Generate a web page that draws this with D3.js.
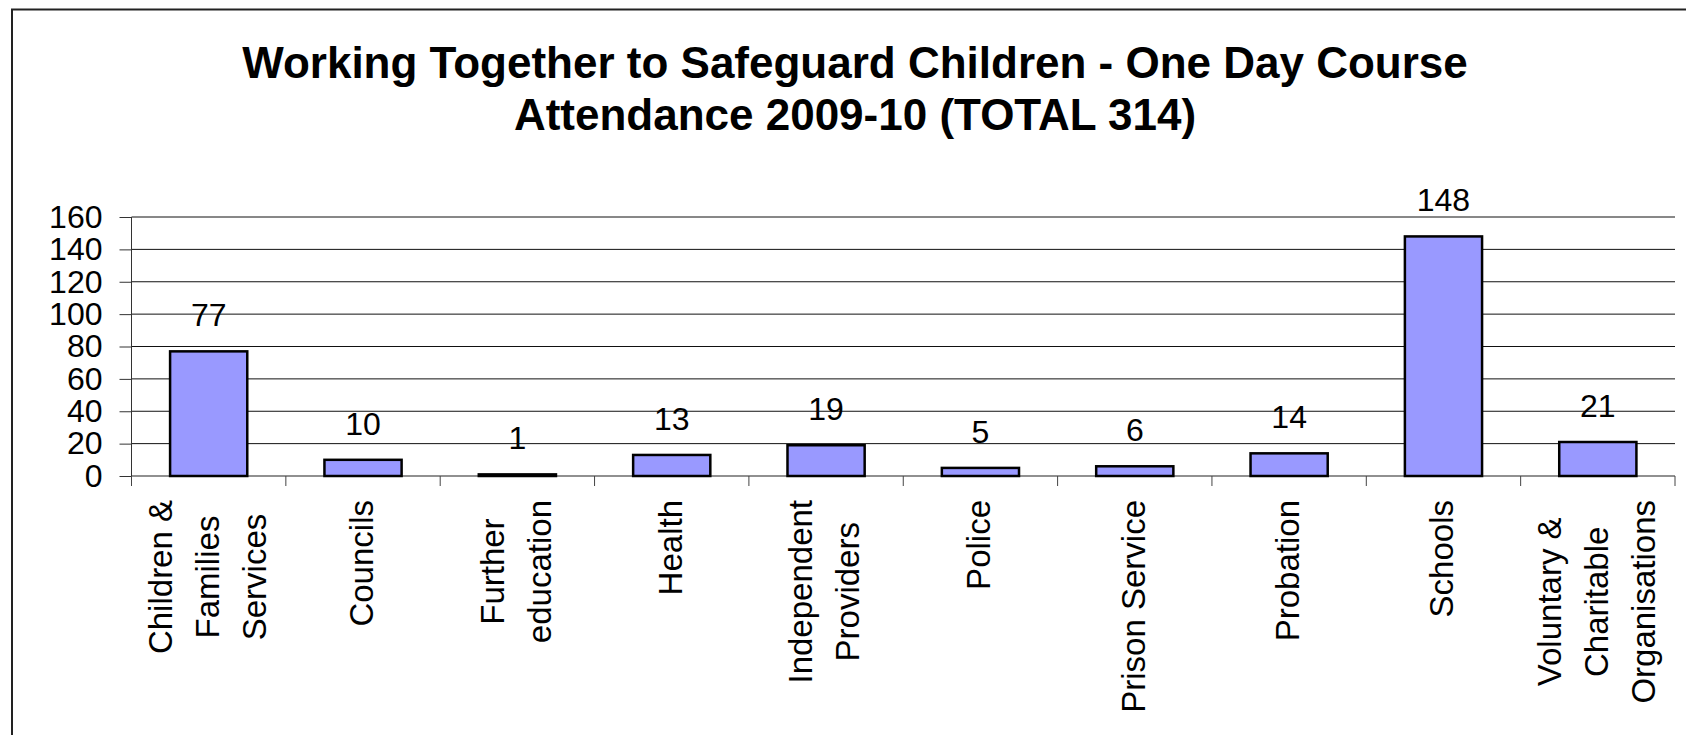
<!DOCTYPE html>
<html>
<head>
<meta charset="utf-8">
<script src="https://cdn.jsdelivr.net/npm/d3@7"></script>
<style>
  html, body { margin: 0; padding: 0; background: #fff; }
  svg { display: block; font-family: "Liberation Sans", Arial, Helvetica, sans-serif; }
</style>
</head>
<body>
<svg id="chart" width="1686" height="735"></svg>
<script>
// ---- data ----
const categories = ["Children & Families Services", "Councils", "Further education", "Health",
  "Independent Providers", "Police", "Prison Service", "Probation", "Schools",
  "Voluntary & Charitable Organisations"];
const categoryLines = [
  ["Children &", "Families", "Services"],
  ["Councils"],
  ["Further", "education"],
  ["Health"],
  ["Independent", "Providers"],
  ["Police"],
  ["Prison Service"],
  ["Probation"],
  ["Schools"],
  ["Voluntary &", "Charitable", "Organisations"]
];
const values = [77, 10, 1, 13, 19, 5, 6, 14, 148, 21];
const yTicks = [0, 20, 40, 60, 80, 100, 120, 140, 160];
const titleLines = ["Working Together to Safeguard Children - One Day Course",
  "Attendance 2009-10 (TOTAL 314)"];

// ---- layout ----
const W = 1686, H = 735;
const plotLeft = 131.5, plotRight = 1675, plotBottom = 476, plotTop = 217;
const svg = d3.select("#chart");

svg.append("rect").attr("width", W).attr("height", H).attr("fill", "#fff");

// outer frame (top and left edges visible)
svg.append("path")
  .attr("d", `M12,${H} V9.5 H${W}`)
  .attr("fill", "none").attr("stroke", "#222").attr("stroke-width", 2);

// title
svg.append("g").selectAll("text").data(titleLines).join("text")
  .attr("x", 855).attr("y", (d, i) => 78 + i * 52)
  .attr("text-anchor", "middle")
  .attr("font-size", 44).attr("font-weight", "bold").attr("fill", "#000")
  .text(d => d);

const y = d3.scaleLinear().domain([0, 160]).range([plotBottom, plotTop]);
const x = d3.scaleBand().domain(categories).range([plotLeft, plotRight])
  .paddingInner(0.5).paddingOuter(0.25);

// gridlines
svg.append("g").selectAll("line").data(yTicks.filter(t => t > 0)).join("line")
  .attr("x1", plotLeft).attr("x2", plotRight)
  .attr("y1", d => y(d)).attr("y2", d => y(d))
  .attr("stroke", "#111").attr("stroke-width", 1);

// y axis
const yAxis = d3.axisLeft(y).tickValues(yTicks).tickSize(12).tickPadding(17);
const gy = svg.append("g").attr("transform", `translate(${plotLeft},0)`).call(yAxis);
gy.select(".domain").attr("stroke", "#333").attr("d", `M0,${plotTop}V${plotBottom + 10}`);
gy.selectAll(".tick line").attr("stroke", "#333");
gy.selectAll(".tick text").attr("font-size", 32).attr("fill", "#000")
  .attr("font-family", "'Liberation Sans', Arial, sans-serif");

// x axis line and category boundary ticks
const boundaryX = d3.range(categories.length + 1).map(i => plotLeft + i * (plotRight - plotLeft) / categories.length);
svg.append("line").attr("x1", plotLeft).attr("x2", plotRight)
  .attr("y1", plotBottom).attr("y2", plotBottom).attr("stroke", "#222").attr("stroke-width", 1.2);
svg.append("g").selectAll("line").data(boundaryX).join("line")
  .attr("x1", d => d).attr("x2", d => d)
  .attr("y1", plotBottom).attr("y2", plotBottom + 10)
  .attr("stroke", "#444").attr("stroke-width", 1);

// bars
svg.append("g").selectAll("rect").data(values).join("rect")
  .attr("x", (d, i) => x(categories[i]))
  .attr("width", x.bandwidth())
  .attr("y", d => y(d))
  .attr("height", d => y(0) - y(d))
  .attr("fill", "#9999FF").attr("stroke", "#000").attr("stroke-width", 2.5);

// value labels
svg.append("g").selectAll("text").data(values).join("text")
  .attr("x", (d, i) => x(categories[i]) + x.bandwidth() / 2)
  .attr("y", d => y(d) - 25)
  .attr("text-anchor", "middle").attr("font-size", 32).attr("fill", "#000")
  .text(d => d);

// category labels (rotated, wrapped, lines centred)
const lineGap = 47, labelTop = 500, fs = 33;
const gl = svg.append("g");
categoryLines.forEach((lines, i) => {
  const cx = x(categories[i]) + x.bandwidth() / 2;
  const g = gl.append("g");
  const texts = g.selectAll("text").data(lines).join("text")
    .attr("font-size", fs).attr("fill", "#000").attr("text-anchor", "middle")
    .text(d => d);
  let maxLen = 0;
  texts.each(function () { maxLen = Math.max(maxLen, this.getComputedTextLength()); });
  const cy = labelTop + maxLen / 2;
  texts.attr("transform", (d, j) => {
    const lx = cx + (j - (lines.length - 1) / 2) * lineGap + fs * 0.3;
    return `translate(${lx},${cy}) rotate(-90)`;
  });
});
</script>
</body>
</html>
